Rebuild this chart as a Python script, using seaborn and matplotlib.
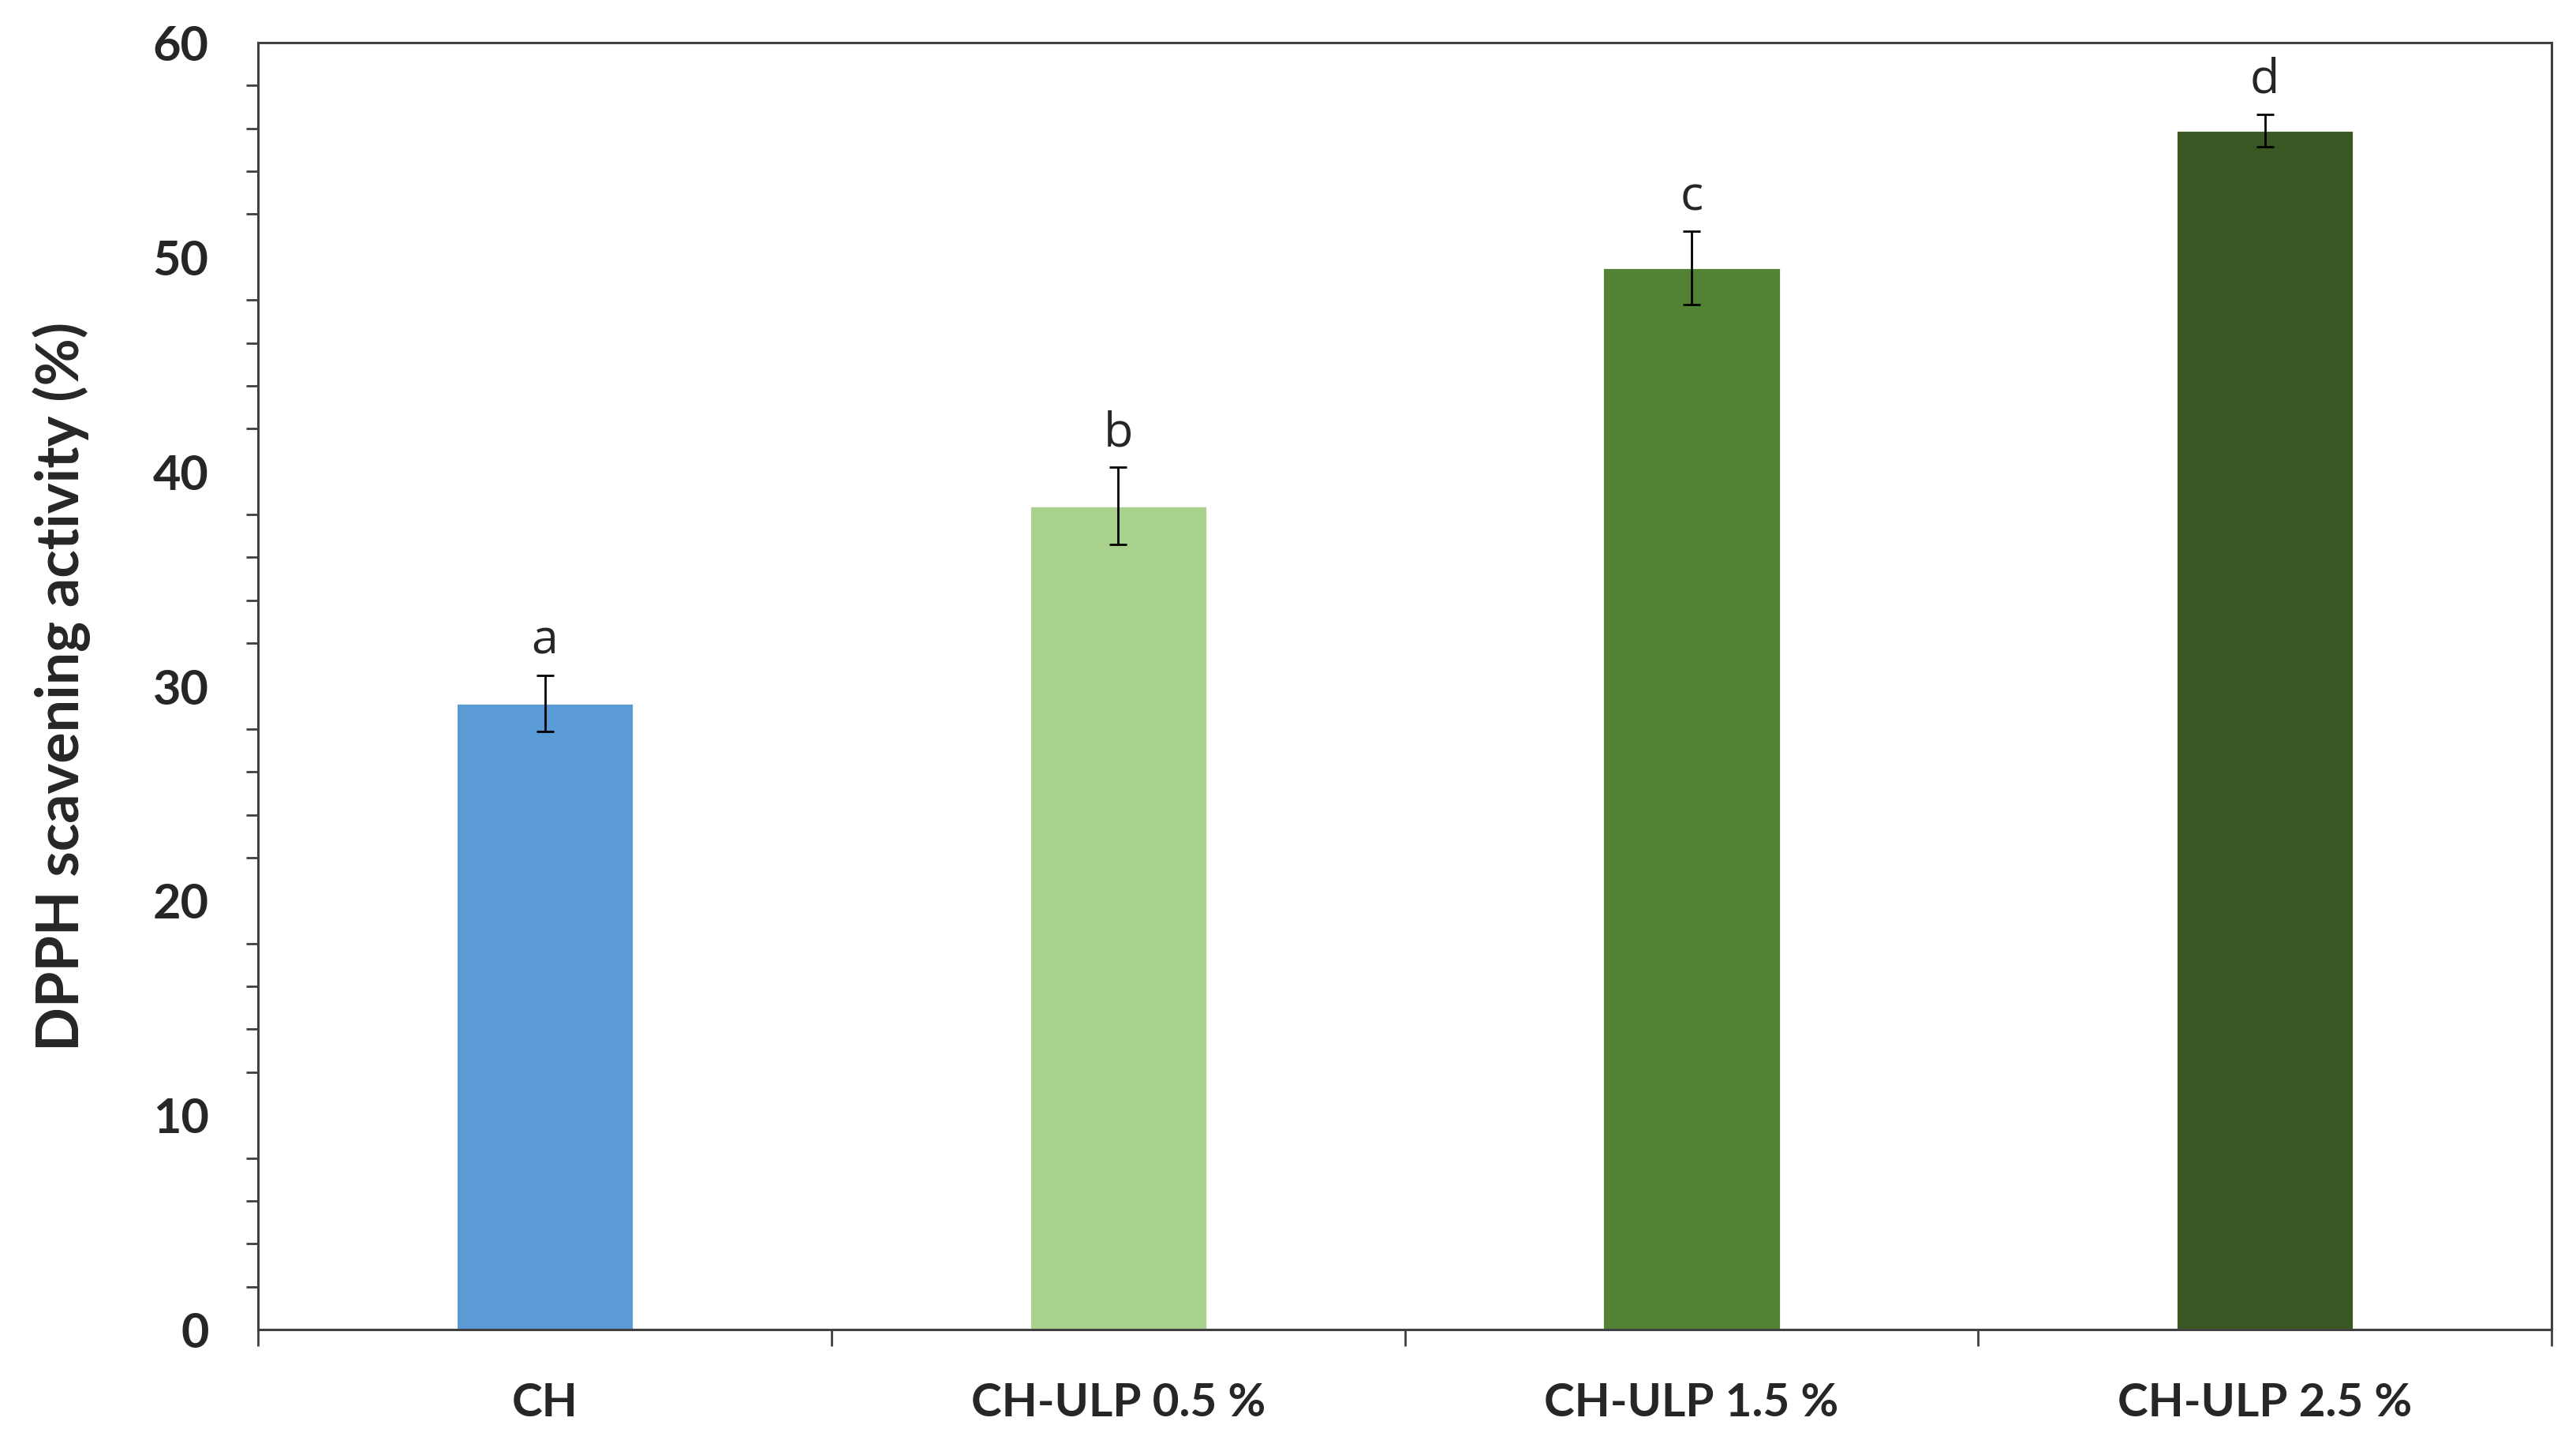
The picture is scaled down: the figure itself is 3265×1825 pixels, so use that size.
import numpy as np
import seaborn as sns
import matplotlib.pyplot as plt
from matplotlib.ticker import MultipleLocator, FixedLocator

# data
groups = ["CH", "CH-ULP 0.5 %", "CH-ULP 1.5 %", "CH-ULP 2.5 %"]
dpph = [29.2, 38.4, 49.5, 55.9]
sd = [1.3, 1.8, 1.7, 0.75]
letters = ["a", "b", "c", "d"]
colors = ["#5B9BD5", "#A9D18E", "#548235", "#385723"]

sns.set_style("white")
plt.rcParams["font.family"] = ["Lato", "DejaVu Sans"]

fig = plt.figure(figsize=(16.325, 9.125), dpi=200)
ax = fig.add_axes([0.1002, 0.0767, 0.8903, 0.8937])

sns.barplot(x=groups, y=dpph, hue=groups, palette=colors, width=0.31,
            legend=False, saturation=1, ax=ax)
ax.errorbar(np.arange(len(groups)), dpph, yerr=sd, fmt="none", ecolor="black",
            elinewidth=1.0, capsize=4, capthick=1.0)

# significance letters above the error bars
for i, (v, e, l) in enumerate(zip(dpph, sd, letters)):
    ax.text(i, v + e + 1.0, l, ha="center", va="baseline", fontsize=22,
            family=["Open Sans", "DejaVu Sans"])

ax.set_xlim(-0.5, 3.5)
ax.set_ylim(0, 60)
ax.yaxis.set_major_locator(MultipleLocator(10))
ax.yaxis.set_minor_locator(MultipleLocator(2))
ax.xaxis.set_minor_locator(FixedLocator([-0.5, 0.5, 1.5, 2.5, 3.5]))

ax.tick_params(axis="y", which="major", length=7.5, width=1.0, color="#404040",
               pad=15, labelsize=22)
ax.tick_params(axis="y", which="minor", length=5.5, width=1.0, color="#404040", left=True)
ax.tick_params(axis="x", which="major", length=0, pad=24, labelsize=21)
ax.tick_params(axis="x", which="minor", length=7.5, width=1.0, color="#404040", bottom=True)
for lab in ax.get_xticklabels() + ax.get_yticklabels():
    lab.set_fontweight("bold")

ax.set_ylabel("DPPH scavening activity (%)", fontsize=26.5, fontweight="bold")
ax.yaxis.set_label_coords(-0.073, 0.5)
ax.set_xlabel("")

for s in ax.spines.values():
    s.set_visible(True)
    s.set_color("#404040")
    s.set_linewidth(1.1)

fig.savefig("out.png", dpi=200)
